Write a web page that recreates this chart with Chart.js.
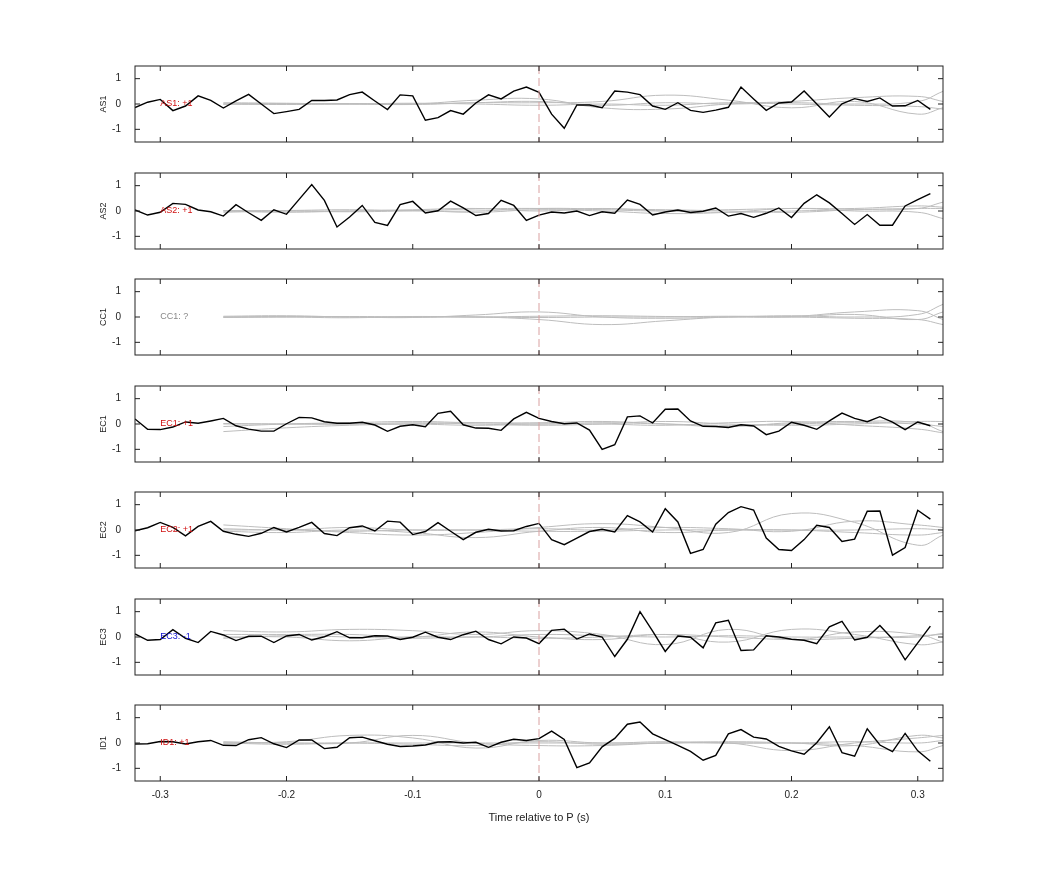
<!DOCTYPE html>
<html><head><meta charset="utf-8">
<script src="https://cdn.jsdelivr.net/npm/chart.js@4"></script>
<style>body{margin:0;background:#fff;width:1042px;height:875px;position:relative;overflow:hidden}canvas{position:absolute;left:0}</style>
</head><body>
<script>
const times=[-0.32,-0.31,-0.30,-0.29,-0.28,-0.27,-0.26,-0.25,-0.24,-0.23,-0.22,-0.21,-0.20,-0.19,-0.18,-0.17,-0.16,-0.15,-0.14,-0.13,-0.12,-0.11,-0.10,-0.09,-0.08,-0.07,-0.06,-0.05,-0.04,-0.03,-0.02,-0.01,0,0.01,0.02,0.03,0.04,0.05,0.06,0.07,0.08,0.09,0.10,0.11,0.12,0.13,0.14,0.15,0.16,0.17,0.18,0.19,0.20,0.21,0.22,0.23,0.24,0.25,0.26,0.27,0.28,0.29,0.30,0.31];
const greyTimes=[-0.25,-0.2,-0.15,-0.1,-0.05,0,0.05,0.1,0.15,0.2,0.25,0.3,0.32];
const stations=["AS1","AS2","CC1","EC1","EC2","EC3","ID1"];
const labels=["AS1: +1","AS2: +1","CC1: ?","EC1: +1","EC2: +1","EC3: -1","ID1: +1"];
const labelColors=["#d01010","#d01010","#888888","#d01010","#d01010","#1010d0","#d01010"];
const xTicks=[-0.3,-0.2,-0.1,0,0.1,0.2,0.3];
const yTicks=[-1,0,1];
const AS1=[-0.14,0.07,0.18,-0.26,-0.08,0.32,0.14,-0.16,0.12,0.38,0.0,-0.38,-0.3,-0.21,0.14,0.14,0.16,0.37,0.47,0.12,-0.22,0.36,0.32,-0.64,-0.54,-0.26,-0.4,0.04,0.36,0.2,0.51,0.67,0.46,-0.4,-0.96,-0.04,-0.04,-0.15,0.51,0.47,0.37,-0.08,-0.21,0.05,-0.25,-0.33,-0.24,-0.13,0.67,0.2,-0.25,0.04,0.08,0.51,0.0,-0.51,0.01,0.21,0.1,0.24,-0.08,-0.07,0.14,-0.21];
const AS2=[0.04,-0.16,-0.05,0.3,0.26,0.04,-0.03,-0.2,0.25,-0.07,-0.37,0.05,-0.13,0.46,1.04,0.42,-0.63,-0.24,0.22,-0.45,-0.57,0.25,0.38,-0.08,0.01,0.39,0.12,-0.18,-0.1,0.42,0.22,-0.37,-0.16,-0.04,-0.08,0.0,-0.18,-0.03,-0.09,0.43,0.26,-0.16,-0.04,0.04,-0.06,-0.01,0.12,-0.2,-0.1,-0.25,-0.09,0.12,-0.26,0.3,0.64,0.32,-0.1,-0.53,-0.14,-0.56,-0.56,0.2,0.45,0.69];
const CC1=null;
const EC1=[0.2,-0.21,-0.22,-0.12,0.08,0.03,0.12,0.22,-0.07,-0.2,-0.28,-0.28,0.01,0.26,0.24,0.09,0.03,0.03,0.07,-0.04,-0.29,-0.09,-0.03,-0.11,0.42,0.5,-0.03,-0.16,-0.17,-0.25,0.2,0.46,0.22,0.1,0.01,0.04,-0.24,-1.0,-0.82,0.28,0.32,0.04,0.58,0.59,0.12,-0.09,-0.1,-0.14,-0.03,-0.08,-0.42,-0.28,0.07,-0.05,-0.21,0.12,0.43,0.22,0.09,0.29,0.07,-0.22,0.08,-0.07];
const EC2=[-0.03,0.09,0.3,0.1,-0.23,0.14,0.34,-0.05,-0.17,-0.25,-0.13,0.1,-0.08,0.1,0.3,-0.14,-0.22,0.09,0.16,-0.04,0.35,0.31,-0.18,-0.06,0.29,-0.05,-0.38,-0.09,0.03,-0.04,-0.03,0.14,0.26,-0.38,-0.58,-0.32,-0.06,0.03,-0.08,0.57,0.32,-0.08,0.84,0.32,-0.92,-0.77,0.23,0.69,0.92,0.79,-0.32,-0.77,-0.81,-0.38,0.19,0.1,-0.45,-0.36,0.74,0.75,-0.99,-0.69,0.78,0.43];
const EC3=[0.12,-0.13,-0.1,0.29,-0.05,-0.22,0.22,0.08,-0.14,0.03,0.03,-0.22,0.04,0.1,-0.12,0.01,0.21,-0.03,-0.03,0.05,0.04,-0.1,-0.01,0.19,-0.01,-0.1,0.09,0.23,-0.1,-0.27,0.0,-0.04,-0.26,0.26,0.31,-0.08,0.12,0.0,-0.77,-0.09,1.0,0.23,-0.57,0.04,-0.01,-0.43,0.56,0.66,-0.53,-0.51,0.05,0.0,-0.09,-0.13,-0.26,0.4,0.62,-0.12,-0.01,0.45,-0.08,-0.9,-0.23,0.43];
const ID1=[-0.04,-0.03,0.06,0.05,-0.04,0.05,0.1,-0.09,-0.1,0.13,0.21,-0.03,-0.18,0.12,0.12,-0.22,-0.17,0.21,0.23,0.09,-0.05,-0.14,-0.12,-0.08,0.04,0.05,0.0,0.03,-0.17,0.03,0.15,0.1,0.17,0.47,0.14,-0.97,-0.79,-0.15,0.18,0.74,0.83,0.36,0.13,-0.09,-0.33,-0.68,-0.49,0.36,0.53,0.23,0.16,-0.13,-0.31,-0.44,0.01,0.64,-0.38,-0.52,0.56,-0.08,-0.34,0.38,-0.31,-0.72];
const blackSeries=[AS1,AS2,CC1,EC1,EC2,EC3,ID1];
const greyAS1=[[0,0.02,0,-0.02,0.05,0.1,-0.05,0.05,0,0.05,0,0.1,0.5],[0.05,0.03,0,0,0.15,0.2,-0.15,-0.2,0,0.1,0.25,0.3,0.1],[0,0,0.02,0,0.05,0.05,0.1,0.35,0.15,-0.15,0.1,-0.4,-0.15],[0,-0.02,0,0.03,0,-0.05,0,-0.05,0.05,0,-0.05,-0.1,-0.2]];
const greyAS2=[[0,0.02,0.05,0.02,0.08,0.1,0.05,0,0.05,0.1,0.1,0.2,0.15],[-0.05,0,0,0.05,0.1,0,0.1,0,-0.05,0,0.05,0.1,0.35],[0,-0.05,0,0.02,-0.05,0.05,0,-0.1,-0.05,0.1,0,-0.05,-0.3],[0.02,0,-0.03,0,0,0.1,0.08,0.05,0,-0.05,0.05,0.1,0.1]];
const greyCC1=[[0,0.02,0,-0.02,0.08,0.2,0,-0.05,0,0.05,0,0.1,0.5],[0.03,0.05,0,0,0,-0.1,-0.3,-0.15,0,0.02,0.2,0.25,-0.1],[0,0,-0.03,0.02,0,0.03,0.05,0.02,0,0,0.1,-0.1,0.2],[-0.02,0,0.02,0,0,-0.02,0,0,0.03,0,-0.05,-0.1,-0.3]];
const greyEC1=[[-0.3,-0.15,-0.05,0,0.05,0,0.05,0,-0.05,0,0.05,0,-0.1],[-0.1,0,0.05,0.1,0.05,0.05,0.1,0,-0.1,0.05,0.1,0.05,-0.3],[0,0,0,0.05,0,-0.05,0,0.1,0,-0.05,0,0.1,0.1],[0.02,0,0,0,-0.05,0,0,-0.05,0.05,0.1,-0.05,-0.2,-0.35]];
const greyEC2=[[0.2,0.05,-0.1,-0.2,-0.1,0.1,0.25,0.1,-0.1,0.65,0.3,-0.6,-0.2],[0.05,0,0.1,0,0,0.05,0,0.1,0.05,-0.05,0.35,0.2,0.1],[-0.05,-0.1,0,-0.1,-0.3,-0.05,0.1,-0.1,0,0,-0.1,-0.2,-0.1],[0,0,-0.05,0,0,-0.05,-0.05,0,0,0,0,0.05,0]];
const greyEC3=[[0.25,0.2,0.3,0.25,0.1,0.25,0.1,-0.3,0.3,-0.1,0.2,0.1,-0.2],[0.1,0.1,0.1,0,0.2,0,-0.1,0.1,-0.2,0.3,0.1,-0.3,-0.2],[0,0,-0.15,0,0,0.1,0.05,0,0.05,0,0,0,0.15],[-0.05,0.05,0,-0.05,0,-0.05,0,0.1,0,-0.1,-0.05,0.05,0.1]];
const greyID1=[[0,0.05,0.3,0.2,-0.2,0.1,0,0.05,0,0,-0.1,0.3,0.2],[0,0,0,0.3,0,-0.1,-0.1,0,0,-0.3,0,0.2,0.3],[0,-0.05,0,0,0,0,0,0,0.05,0,-0.1,-0.35,-0.1],[0.05,0,0,-0.05,-0.1,0.05,-0.05,0,0,0,0.05,0,0.1]];
const greySeries=[greyAS1,greyAS2,greyCC1,greyEC1,greyEC2,greyEC3,greyID1];

const FONT='"Liberation Sans", Arial, sans-serif';
const panelTops=[66,172.5,279,385.5,492,598.5,705];
const PH=76, GAP=12;
function makePanel(i){
  const last=i===6;
  const c=document.createElement('canvas');
  const h=GAP+PH+(last?48:GAP);
  c.style.top=(panelTops[i]-GAP)+'px';
  c.style.width='1042px';c.style.height=h+'px';
  c.width=1042;c.height=h;
  document.body.appendChild(c);
  const ds=[];
  greySeries[i].forEach(g=>ds.push({data:greyTimes.map((t,k)=>({x:t,y:g[k]})),borderColor:'#bdbdbd',borderWidth:1,pointRadius:0,tension:0.45,order:2}));
  if(blackSeries[i]) ds.push({data:times.map((t,k)=>({x:t,y:blackSeries[i][k]})),borderColor:'#000',borderWidth:1.4,pointRadius:0,tension:0,order:1});
  const deco={id:'deco',afterDatasetsDraw(ch){
    const {ctx,chartArea:a,scales:{x,y}}=ch;
    ctx.save();
    const x0=x.getPixelForValue(0);
    ctx.strokeStyle='#d9a0a0';ctx.lineWidth=1;ctx.setLineDash([8,4]);
    ctx.beginPath();ctx.moveTo(x0,a.top);ctx.lineTo(x0,a.bottom);ctx.stroke();
    ctx.setLineDash([]);
    ctx.strokeStyle='#222';ctx.lineWidth=1;
    ctx.strokeRect(a.left,a.top,a.right-a.left,a.bottom-a.top);
    ctx.beginPath();
    xTicks.forEach(v=>{const p=x.getPixelForValue(v);ctx.moveTo(p,a.top);ctx.lineTo(p,a.top+5);ctx.moveTo(p,a.bottom);ctx.lineTo(p,a.bottom-5);});
    yTicks.forEach(v=>{const p=y.getPixelForValue(v);ctx.moveTo(a.left,p);ctx.lineTo(a.left+5,p);ctx.moveTo(a.right,p);ctx.lineTo(a.right-5,p);});
    ctx.stroke();
    ctx.fillStyle=labelColors[i];ctx.font='9px '+FONT;ctx.textBaseline='middle';ctx.textAlign='left';
    ctx.fillText(labels[i],x.getPixelForValue(-0.3),y.getPixelForValue(0));
    ctx.fillStyle='#222';ctx.translate(104,(a.top+a.bottom)/2);ctx.rotate(-Math.PI/2);ctx.textAlign='center';
    ctx.fillText(stations[i],0,0);
    ctx.restore();
  }};
  new Chart(c,{type:'line',data:{datasets:ds},plugins:[deco],
    options:{responsive:false,animation:false,events:[],
      layout:{padding:{top:0,bottom:0,left:0,right:99}},
      plugins:{legend:{display:false},tooltip:{enabled:false}},
      scales:{
        x:{type:'linear',min:-0.32,max:0.32,grid:{display:false},border:{display:false},
          afterBuildTicks(s){s.ticks=xTicks.map(v=>({value:v}));},
          afterFit(s){s.height=last?48:0;},
          ticks:{display:last,color:'#222',font:{size:10,family:FONT},padding:0,maxRotation:0,callback:v=>String(Math.round(v*10)/10)},
          title:{display:last,text:'Time relative to P (s)',color:'#222',font:{size:11,family:FONT},padding:{top:2}}},
        y:{min:-1.5,max:1.5,grid:{display:false},border:{display:false},
          afterBuildTicks(s){s.ticks=yTicks.map(v=>({value:v}));},
          afterFit(s){s.width=135;},
          ticks:{color:'#222',font:{size:10,family:FONT},padding:6}}
      }}});
}
for(let i=0;i<7;i++)makePanel(i);
</script>
</body></html>
